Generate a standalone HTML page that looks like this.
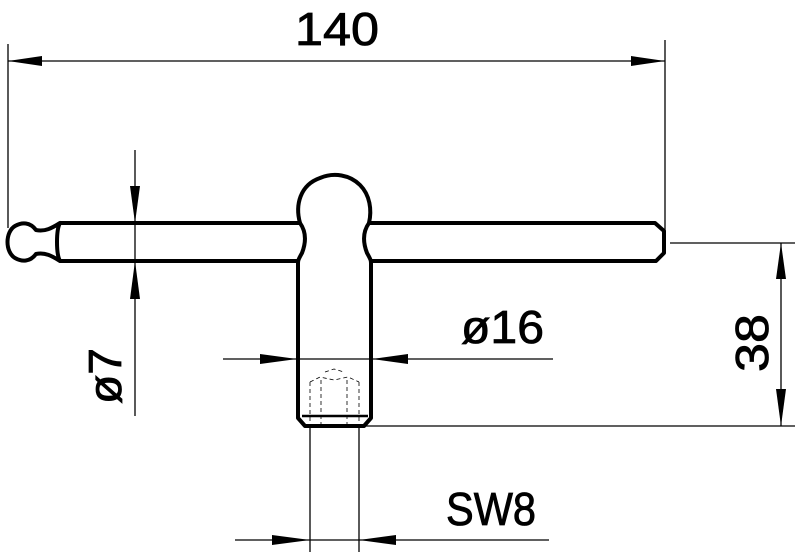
<!DOCTYPE html>
<html><head><style>body{margin:0;background:#fff}svg{display:block}</style></head><body>
<svg width="800" height="558" viewBox="0 0 800 558" xmlns="http://www.w3.org/2000/svg" font-family="Liberation Sans, sans-serif">
<g stroke="#000" stroke-width="1.3" fill="none">
<line x1="8" y1="44" x2="8" y2="228"/>
<line x1="665" y1="40" x2="665" y2="243"/>
<line x1="8" y1="61" x2="665" y2="61"/>
<line x1="135" y1="150" x2="135" y2="416"/>
<line x1="223" y1="359" x2="553" y2="359"/>
<line x1="670" y1="243" x2="795" y2="243"/>
<line x1="365" y1="426" x2="795" y2="426"/>
<line x1="781" y1="243" x2="781" y2="426"/>
<line x1="310" y1="424" x2="310" y2="552"/>
<line x1="359" y1="424" x2="359" y2="552"/>
<line x1="235" y1="540" x2="549" y2="540"/>
</g>
<g fill="#000">
<polygon points="8,61 42,56 42,66"/>
<polygon points="665,61 631,56 631,66"/>
<polygon points="135,223 130,186 140,186"/>
<polygon points="135,261 130,299 140,299"/>
<polygon points="297,359 260,354 260,364"/>
<polygon points="372,359 408,354 408,364"/>
<polygon points="781,243 776,279 786,279"/>
<polygon points="781,426 776,389 786,389"/>
<polygon points="310,540 272,535 272,545"/>
<polygon points="359,540 396,535 396,545"/>
</g>
<g stroke="#000" stroke-width="4" fill="none" stroke-linejoin="round">
<path d="M60,223 L300,223 C305,230 307,240 302,253 C298,260 298,261 298,263 L298,418 L305,426 L364,426 L371,418 L371,263 C371,261 371,260 367,253 C362,240 364,230 369,223 L655,223 L664,231 L664,253 L656,261 L369,261"/>
<path d="M300,261 L60,261"/>
<path d="M300,223 C295,205 300,185 320,178 C334,172 350,175 360,185 C370,195 372,210 369,223"/>
<path d="M60,223 C56,230 56,254 60,261 C52,256 45,252 36,254 C30,262 22,262 15,258 C5,252 5,232 15,226 C22,222 30,222 36,230 C45,232 52,228 60,223 Z"/>
<line x1="302" y1="416" x2="368" y2="416" stroke-width="2.5"/>
</g>
<g stroke="#000" stroke-width="0.8" fill="none" stroke-dasharray="4,3">
<line x1="310" y1="382" x2="310" y2="424"/>
<line x1="321" y1="380" x2="321" y2="424"/>
<line x1="347" y1="380" x2="347" y2="424"/>
<line x1="359" y1="382" x2="359" y2="424"/>
<path d="M310,382 L320,377 L334,380 L348,377 L359,382"/>
<path d="M325,372 L334,369 L344,372"/>
</g>
<g fill="#000" font-size="46" stroke="#000" stroke-width="0.8">
<text x="295" y="45" textLength="84" lengthAdjust="spacingAndGlyphs">140</text>
<text x="461" y="343" textLength="83" lengthAdjust="spacingAndGlyphs">ø16</text>
<text x="446" y="525" textLength="90" lengthAdjust="spacingAndGlyphs">SW8</text>
<text transform="translate(768,372) rotate(-90)" textLength="58" lengthAdjust="spacingAndGlyphs">38</text>
<text transform="translate(121,404) rotate(-90)" textLength="56" lengthAdjust="spacingAndGlyphs">ø7</text>
</g>
</svg>
</body></html>
